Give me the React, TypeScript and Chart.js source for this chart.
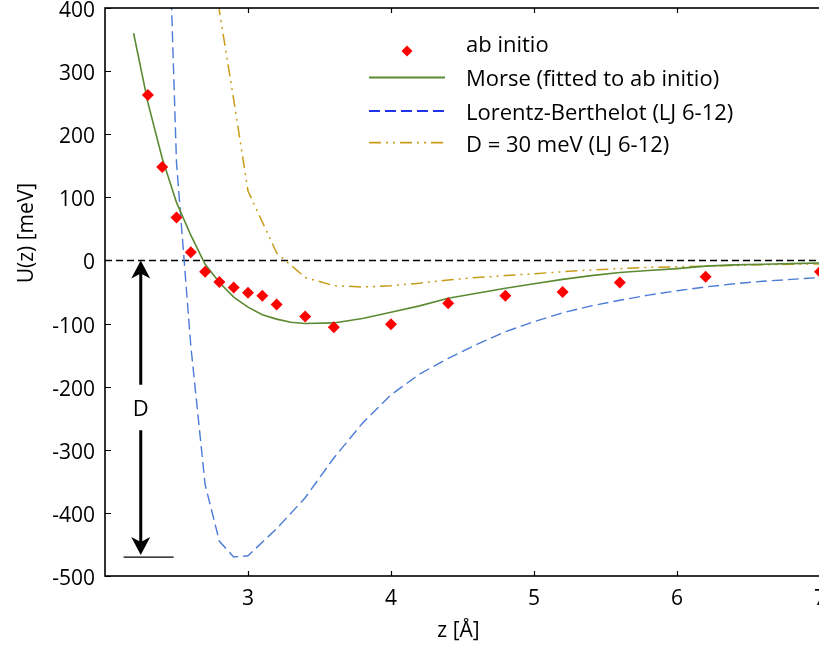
import React, { useEffect, useRef } from 'react';
import { Chart, registerables } from 'chart.js';

Chart.register(...registerables);

// ---------- data ----------
const abInitioZ = [2.3, 2.4, 2.5, 2.6, 2.7, 2.8, 2.9, 3.0, 3.1, 3.2, 3.4, 3.6, 4.0, 4.4, 4.8, 5.2, 5.6, 6.2, 7.0];
const abInitioU = [262, 148, 68, 13, -18, -34, -43, -51, -56, -70, -89, -106, -101, -68, -56, -50, -35, -26, -18];

const morseZ = [2.2, 2.3, 2.4, 2.5, 2.6, 2.7, 2.8, 2.9, 3.0, 3.1, 3.2, 3.3, 3.4, 3.6, 3.8, 4.0, 4.2, 4.4, 4.6, 4.8, 5.0, 5.2, 5.4, 5.6, 5.8, 6.0, 6.2, 6.4, 6.6, 6.8, 7.0];
const morseU = [360, 250, 162, 92, 40, -6, -35, -58, -74, -86, -93, -98, -100, -99, -92, -82, -72, -60, -52, -44, -37, -30, -24, -19, -16, -13, -9, -7, -6, -5, -4];

const lbZ = [2.4, 2.5, 2.6, 2.7, 2.8, 2.9, 3.0, 3.2, 3.4, 3.6, 3.8, 4.0, 4.2, 4.4, 4.6, 4.8, 5.0, 5.2, 5.4, 5.6, 5.8, 6.0, 6.2, 6.4, 6.6, 6.8, 7.0];
const lbU = [870, 155, -135, -355, -445, -470, -468, -425, -376, -313, -258, -213, -180, -155, -133, -113, -97, -83, -72, -63, -55, -48, -42, -37, -33, -30, -27];

const d30Z = [2.7, 2.8, 2.9, 3.0, 3.2, 3.4, 3.6, 3.8, 4.0, 4.2, 4.4, 4.6, 4.8, 5.0, 5.2, 5.4, 5.6, 5.8, 6.0, 6.2, 6.4, 6.6, 6.8, 7.0];
const d30U = [800, 395, 255, 110, 12, -27, -40, -42, -40, -36, -31, -27, -24, -21, -18, -15, -13, -11, -10, -9, -8, -7, -6, -5.5];

const zeroZ = [2, 7];
const zeroU = [0, 0];

const xTicks = [3, 4, 5, 6, 7];
const yTicks = [-500, -400, -300, -200, -100, 0, 100, 200, 300, 400];

const seriesLabels = ['ab initio', 'Morse (fitted to ab initio)', 'Lorentz-Berthelot (LJ 6-12)', 'D = 30 meV (LJ 6-12)'];
const xTitle = 'z [Å]';
const yTitle = 'U(z) [meV]';
const depthLabel = 'D';
const depthValue = -470;

// ---------- style ----------
const FONT = '"Open Sans", sans-serif';
const FS = 21;
const LEGEND_FS = 22;
const RED = '#ff0000';
const GREEN = '#5b8a32';
const BLUE = '#4a7bd6';
const BLUE_LEGEND = '#2233ee';
const GOLD = '#c69c18';
const DASH_LB = [11, 5];
const DASH_D30 = [12, 5, 2, 5, 2, 5];

const pts = (xs: number[], ys: number[]) => xs.map((x, i) => ({ x, y: ys[i] }));

function arrowHead(ctx: CanvasRenderingContext2D, x: number, tipY: number, dir: number) {
  // dir = -1 : arrow pointing up, +1 : pointing down
  const L = 18, W = 9.5, N = 5;
  ctx.beginPath();
  ctx.moveTo(x, tipY);
  ctx.lineTo(x - W, tipY - dir * L);
  ctx.lineTo(x, tipY - dir * (L - N));
  ctx.lineTo(x + W, tipY - dir * L);
  ctx.closePath();
  ctx.fill();
}

const decorPlugin = {
  id: 'decor',
  afterDraw(chart: any) {
    const { ctx, chartArea: a, scales } = chart;
    const xs = scales.x, ys = scales.y;
    ctx.save();

    // frame
    ctx.strokeStyle = '#000';
    ctx.lineWidth = 1.6;
    ctx.setLineDash([]);
    ctx.strokeRect(a.left, a.top, a.right - a.left, a.bottom - a.top);

    // inward ticks
    ctx.lineWidth = 1.2;
    ctx.beginPath();
    for (const v of xTicks) {
      const px = Math.round(xs.getPixelForValue(v)) + 0.5;
      ctx.moveTo(px, a.bottom);
      ctx.lineTo(px, a.bottom - 5);
      ctx.moveTo(px, a.top);
      ctx.lineTo(px, a.top + 5);
    }
    for (const v of yTicks) {
      const py = Math.round(ys.getPixelForValue(v)) + 0.5;
      ctx.moveTo(a.left, py);
      ctx.lineTo(a.left + 6, py);
    }
    ctx.stroke();

    // axis titles
    ctx.fillStyle = '#000';
    ctx.font = `${FS}px ${FONT}`;
    ctx.textBaseline = 'alphabetic';
    ctx.textAlign = 'center';
    ctx.fillText(xTitle, (a.left + a.right) / 2 - 4, a.bottom + 61);
    ctx.save();
    ctx.translate(a.left - 72, a.top + 225);
    ctx.rotate(-Math.PI / 2);
    ctx.fillText(yTitle, 0, 0);
    ctx.restore();

    // legend
    const lx0 = 369, lx1 = 445, tx = 466;
    const baselines = [52, 86, 119.5, 151.5];
    const symY = [51, 77.5, 111, 142.7];
    ctx.font = `${LEGEND_FS}px ${FONT}`;
    ctx.textAlign = 'left';
    seriesLabels.forEach((lab, i) => {
      ctx.fillStyle = '#000';
      ctx.fillText(lab, tx, baselines[i]);
    });
    // diamond
    ctx.fillStyle = RED;
    ctx.beginPath();
    const dx = 407, dy = symY[0], r = 5.5;
    ctx.moveTo(dx, dy - r);
    ctx.lineTo(dx + r, dy);
    ctx.lineTo(dx, dy + r);
    ctx.lineTo(dx - r, dy);
    ctx.closePath();
    ctx.fill();
    const legendLine = (y: number, color: string, dash: number[], w: number) => {
      ctx.strokeStyle = color;
      ctx.lineWidth = w;
      ctx.setLineDash(dash);
      ctx.beginPath();
      ctx.moveTo(lx0, y);
      ctx.lineTo(lx1, y);
      ctx.stroke();
    };
    legendLine(symY[1], GREEN, [], 1.8);
    legendLine(symY[2], BLUE_LEGEND, DASH_LB, 1.8);
    legendLine(symY[3], GOLD, DASH_D30, 1.8);
    ctx.setLineDash([]);

    // depth arrow annotation
    ctx.font = `${FS + 1}px ${FONT}`;
    const ax = xs.getPixelForValue(2.25);
    const y0 = ys.getPixelForValue(0);
    const yD = ys.getPixelForValue(depthValue);
    const yGapTop = ys.getPixelForValue(-197);
    const yGapBot = ys.getPixelForValue(-269);
    const yLab = ys.getPixelForValue(-234);
    ctx.fillStyle = '#000';
    ctx.strokeStyle = '#000';
    ctx.lineWidth = 3;
    ctx.beginPath();
    ctx.moveTo(ax, y0 + 12);
    ctx.lineTo(ax, yGapTop);
    ctx.moveTo(ax, yGapBot);
    ctx.lineTo(ax, yD - 14);
    ctx.stroke();
    arrowHead(ctx, ax, y0, -1);
    arrowHead(ctx, ax, yD - 2, 1);
    ctx.lineWidth = 1.3;
    ctx.beginPath();
    ctx.moveTo(xs.getPixelForValue(2.13), yD);
    ctx.lineTo(xs.getPixelForValue(2.48), yD);
    ctx.stroke();
    ctx.textAlign = 'center';
    ctx.fillText(depthLabel, ax, yLab + 8);

    ctx.restore();
  },
};

export default function App() {
  const ref = useRef<HTMLCanvasElement | null>(null);

  useEffect(() => {
    if (!ref.current) return;
    const chart = new Chart(ref.current, {
      type: 'scatter',
      data: {
        datasets: [
          {
            label: seriesLabels[0],
            data: pts(abInitioZ, abInitioU),
            pointStyle: 'rectRot',
            pointRadius: 6,
            pointBackgroundColor: RED,
            pointBorderWidth: 0,
            borderColor: RED,
            showLine: false,
            order: 0,
            clip: false as any,
          },
          {
            label: seriesLabels[1],
            data: pts(morseZ, morseU),
            showLine: true,
            borderColor: GREEN,
            borderWidth: 1.6,
            pointRadius: 0,
            tension: 0,
            order: 1,
          },
          {
            label: seriesLabels[2],
            data: pts(lbZ, lbU),
            showLine: true,
            borderColor: BLUE,
            borderWidth: 1.4,
            borderDash: DASH_LB,
            pointRadius: 0,
            tension: 0,
            order: 2,
          },
          {
            label: seriesLabels[3],
            data: pts(d30Z, d30U),
            showLine: true,
            borderColor: GOLD,
            borderWidth: 1.5,
            borderDash: DASH_D30,
            pointRadius: 0,
            tension: 0,
            order: 3,
          },
          {
            label: 'zero',
            data: pts(zeroZ, zeroU),
            showLine: true,
            borderColor: '#000',
            borderWidth: 1.4,
            borderDash: [7, 4],
            pointRadius: 0,
            order: 4,
          },
        ],
      },
      options: {
        animation: false,
        responsive: false,
        events: [],
        layout: { padding: { top: 8, right: 40, left: 0, bottom: 0 } },
        plugins: { legend: { display: false }, tooltip: { enabled: false } },
        scales: {
          x: {
            type: 'linear',
            min: 2,
            max: 7,
            grid: { display: false, drawTicks: false },
            border: { display: false },
            ticks: {
              stepSize: 1,
              padding: 10,
              color: '#000',
              maxRotation: 0,
              autoSkip: false,
              font: { family: FONT, size: FS },
              callback: (v: any) => (xTicks.includes(Number(v)) ? String(v) : ''),
            },
            afterFit: (s: any) => {
              s.height = 70;
              s.paddingLeft = 0;
              s.paddingRight = 0;
            },
          },
          y: {
            type: 'linear',
            min: -500,
            max: 400,
            grid: { display: false, drawTicks: false },
            border: { display: false },
            ticks: {
              stepSize: 100,
              padding: 10,
              labelOffset: 3,
              color: '#000',
              font: { family: FONT, size: FS },
              callback: (v: any) => String(v),
            },
            afterFit: (s: any) => {
              s.width = 105;
              s.paddingTop = 0;
              s.paddingBottom = 0;
            },
          },
        },
      },
      plugins: [decorPlugin],
    });
    return () => chart.destroy();
  }, []);

  return (
    <div style={{ position: 'fixed', left: 0, top: 0, width: 819, height: 646, overflow: 'hidden', background: '#fff' }}>
      <canvas ref={ref} width={860} height={646} style={{ display: 'block' }} />
    </div>
  );
}
